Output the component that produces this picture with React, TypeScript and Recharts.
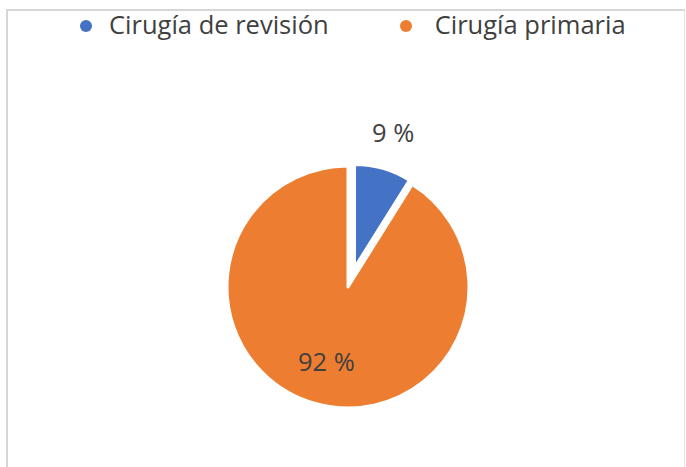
import React from 'react';
import { PieChart, Pie, Cell } from 'recharts';

const categories = ['Cirugía de revisión', 'Cirugía primaria'];
const percentages = [9, 92];
const sliceColors = ['#4472C4', '#ED7D31'];

const data = categories.map((name, i) => ({ name, value: percentages[i], color: sliceColors[i] }));

const RADIAN = Math.PI / 180;
const FONT = '"Open Sans", sans-serif';
const TEXT_COLOR = '#404040';

// label drawn only for the slice that belongs to this pie
const makeLabel = (shownIndex: number, radiusOf: (outer: number) => number) =>
  ({ cx, cy, midAngle, outerRadius, index, value }: any) => {
    if (index !== shownIndex) return null;
    const r = radiusOf(outerRadius);
    const x = cx + r * Math.cos(-midAngle * RADIAN);
    const y = cy + r * Math.sin(-midAngle * RADIAN);
    return (
      <text x={x} y={y + 9} fill={TEXT_COLOR} textAnchor="middle" fontSize={25.5} fontFamily={FONT}>
        {`${value} %`}
      </text>
    );
  };

const Legend = () => (
  <div
    style={{
      position: 'absolute',
      top: 7,
      left: 80,
      display: 'flex',
      alignItems: 'center',
      fontFamily: FONT,
      fontSize: 25.5,
      lineHeight: '34px',
      color: TEXT_COLOR,
    }}
  >
    {data.map((d, i) => (
      <div key={d.name} style={{ display: 'flex', alignItems: 'center', marginRight: i === 0 ? 71 : 0 }}>
        <span
          style={{
            width: 12,
            height: 12,
            borderRadius: '50%',
            backgroundColor: d.color,
            marginRight: i === 0 ? 17 : 23,
            marginTop: 3,
          }}
        />
        <span>{d.name}</span>
      </div>
    ))}
  </div>
);

export default function App() {
  return (
    <div
      style={{
        position: 'absolute',
        left: 0,
        top: 0,
        width: 686,
        height: 467,
        overflow: 'hidden',
        background: '#fff',
      }}
    >
      {/* frame of the original slide, cut off at the bottom */}
      <div
        style={{
          position: 'absolute',
          left: 6,
          top: 9,
          width: 676,
          height: 480,
          borderTop: '2px solid #d6d6d6',
          borderLeft: '2px solid #d6d6d6',
          borderRight: '1px solid #e4e4e4',
        }}
      />
      <div style={{ position: 'absolute', left: 0, top: 0 }}>
        <PieChart width={686} height={467} margin={{ top: 0, right: 0, bottom: 0, left: 0 }}>
          <Pie
            data={data}
            dataKey="value"
            cx={348}
            cy={287}
            outerRadius={121}
            startAngle={90}
            endAngle={-270}
            isAnimationActive={false}
            labelLine={false}
            label={makeLabel(1, (r) => r * 0.645)}
          >
            {data.map((d, i) => (
              <Cell
                key={i}
                fill={i === 1 ? d.color : 'none'}
                stroke={i === 1 ? '#fff' : 'none'}
                strokeWidth={3}
                strokeLinejoin="round"
              />
            ))}
          </Pie>
          {/* exploded slice */}
          <Pie
            data={data}
            dataKey="value"
            cx={355}
            cy={266}
            outerRadius={101}
            startAngle={90}
            endAngle={-270}
            isAnimationActive={false}
            labelLine={false}
            label={makeLabel(0, (r) => r + 37)}
          >
            {data.map((d, i) => (
              <Cell
                key={i}
                fill={i === 0 ? d.color : 'none'}
                stroke={i === 0 ? '#fff' : 'none'}
                strokeWidth={2}
              />
            ))}
          </Pie>
        </PieChart>
      </div>
      <Legend />
    </div>
  );
}
